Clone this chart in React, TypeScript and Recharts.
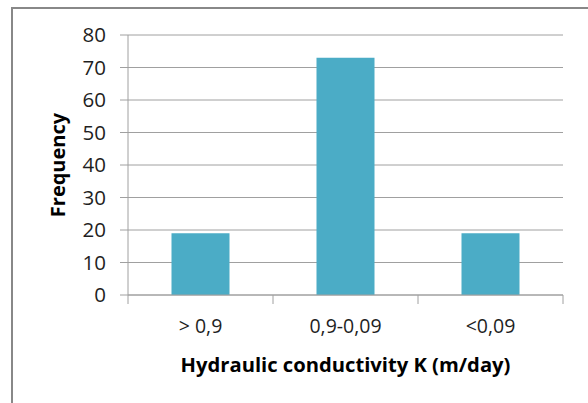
import React from "react";
import { Bar, BarChart, CartesianGrid, Label, XAxis, YAxis } from "recharts";

const categories = ["> 0,9", "0,9-0,09", "<0,09"];
const frequency = [19, 73, 19];
const yTicks = [0, 10, 20, 30, 40, 50, 60, 70, 80];

const data = categories.map((c, i) => ({ name: c, freq: frequency[i] }));

const W = 588;
const H = 403;
const M = { top: 35, right: 25, bottom: 8, left: 40 };
const Y_W = 88;
const X_H = 100;
const BAND = (W - M.left - Y_W - M.right) / categories.length;
const GRID = "#A0A0A0";
const FONT = "'Open Sans', 'Noto Sans', sans-serif";

function XTick(props: any) {
  const { x, y, payload, index } = props;
  const half = BAND / 2;
  return (
    <g>
      <line x1={x - half} x2={x - half} y1={y} y2={y + 9} stroke={GRID} />
      {index === categories.length - 1 && (
        <line x1={x + half} x2={x + half} y1={y} y2={y + 9} stroke={GRID} />
      )}
      <text x={x} y={y + 38} textAnchor="middle" fontSize={19.5} fill="#1f1f1f" fontFamily={FONT}>
        {payload.value}
      </text>
    </g>
  );
}

export default function App() {
  return (
    <div style={{ position: "absolute", left: 0, top: 0, width: W, height: H, background: "#fff" }}>
      <div
        style={{
          position: "absolute",
          left: 11,
          top: 7,
          width: W,
          height: H,
          borderTop: "2px solid #888",
          borderLeft: "2px solid #888",
          pointerEvents: "none",
        }}
      />
      <BarChart width={W} height={H} data={data} margin={M} barCategoryGap="30%">
        <CartesianGrid vertical={false} stroke={GRID} />
        <XAxis
          dataKey="name"
          height={X_H}
          tickSize={0}
          tickMargin={0}
          tickLine={false}
          axisLine={{ stroke: GRID }}
          tick={<XTick />}
          interval={0}
        >
          <Label
            content={({ viewBox }: any) => (
              <text
                x={viewBox.x + viewBox.width / 2}
                y={viewBox.y + 77}
                textAnchor="middle"
                fontSize={20.2}
                fontWeight="bold"
                fill="#000"
                fontFamily={FONT}
              >
                Hydraulic conductivity K (m/day)
              </text>
            )}
          />
        </XAxis>
        <YAxis
          width={Y_W}
          domain={[0, 80]}
          ticks={yTicks}
          tickSize={8}
          tickMargin={14}
          tickLine={{ stroke: GRID }}
          axisLine={{ stroke: GRID }}
          tick={{ fontSize: 20.5, fill: "#1f1f1f", fontFamily: FONT }}
        >
          <Label
            content={({ viewBox }: any) => {
              const cx = 65;
              const cy = viewBox.y + viewBox.height / 2;
              return (
                <text
                  x={cx}
                  y={cy}
                  transform={`rotate(-90 ${cx} ${cy})`}
                  textAnchor="middle"
                  fontSize={20}
                  fontWeight="bold"
                  fill="#000"
                  fontFamily={FONT}
                >
                  Frequency
                </text>
              );
            }}
          />
        </YAxis>
        <Bar dataKey="freq" fill="#4BACC6" isAnimationActive={false} />
      </BarChart>
    </div>
  );
}
